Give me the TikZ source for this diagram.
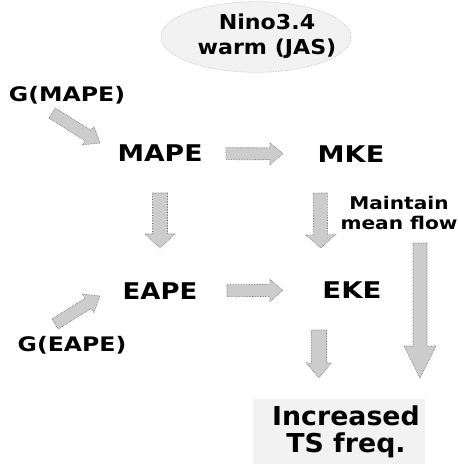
\documentclass[tikz,border=0pt]{standalone}
\usepackage{fontspec}
\setmainfont{DejaVu Sans}
\usetikzlibrary{calc,shapes.geometric}
\newcommand\fatarr[5]{%
  \coordinate (fhS) at #1;
  \coordinate (fhE) at #2;
  \coordinate (fhH) at ($(fhE)!#5!(fhS)$);
  \filldraw[fatarrow] ($(fhS)!#3!90:(fhE)$) -- ($(fhH)!#3!90:(fhE)$) -- ($(fhH)!#4!90:(fhE)$) -- (fhE)
    -- ($(fhH)!#4!-90:(fhE)$) -- ($(fhH)!#3!-90:(fhE)$) -- ($(fhS)!#3!-90:(fhE)$) -- cycle;}
\newcommand\sx[2]{\scalebox{#1}[1]{#2}}
\newcommand\twol[3]{\scalebox{#1}[1]{\begin{tabular}{@{}c@{}}#2\\#3\end{tabular}}}
\begin{document}
\begin{tikzpicture}[x=1pt,y=-1pt,
  fatarrow/.style={fill=gray!40, draw=black!60, densely dotted, line width=0.6pt},
  bigl/.style={font=\fontsize{23}{27}\selectfont\bfseries, inner sep=0pt},
  glab/.style={font=\fontsize{20}{24}\selectfont\bfseries, inner sep=0pt},
  speckle/.style={fill=gray!10, draw=gray!55, densely dotted, line width=0.6pt}]
\useasboundingbox (0,0) rectangle (458,464);
\fill[white] (0,0) rectangle (458,464);
% nodes
\node[ellipse, speckle, minimum width=190pt, minimum height=67pt, inner sep=0pt,
  font=\fontsize{20.5}{25}\selectfont\bfseries] (nino) at (256,37)
  {\makebox[0pt]{\hspace*{22pt}\twol{1.08}{Nino3.4}{warm (JAS)}}};
\node[glab] (gm) at (67,95) {\sx{1.18}{G(MAPE)}};
\node[bigl] (mape) at (160,153.5) {\sx{1.16}{MAPE}};
\node[bigl] (mke) at (351,154) {\sx{1.18}{MKE}};
\node[inner sep=0pt, font=\fontsize{17.5}{20}\selectfont\bfseries] (maint) at (399,215) {\twol{1.15}{Maintain}{mean flow}};
\node[bigl] (eape) at (160,291) {\sx{1.13}{EAPE}};
\node[bigl] (eke) at (352,290) {\sx{1.2}{EKE}};
\node[glab] (ge) at (72,345) {\sx{1.18}{G(EAPE)}};
\node[speckle, draw=none, minimum width=172pt, minimum height=68pt, inner sep=0pt,
  font=\fontsize{26}{25}\selectfont\bfseries] (incr) at (339,433)
  {\hspace*{14pt}\twol{1.03}{Increased}{TS freq.}};
% fat arrows
\fatarr{($(gm)+(-15,18)$)}{($(gm)+(33,48)$)}{6pt}{11pt}{14pt}
\fatarr{($(mape)!0.345!(mke)$)}{($(mape)!0.644!(mke)$)}{6pt}{11pt}{13pt}
\fatarr{($(mape)!0.287!(eape)$)}{($(mape)!0.687!(eape)$)}{7.5pt}{15pt}{14pt}
\fatarr{($(mke)!0.287!(eke)+(-31,0)$)}{($(mke)!0.69!(eke)+(-31,0)$)}{7pt}{15pt}{13pt}
\fatarr{($(eape)!0.349!(eke)$)}{($(eape)!0.64!(eke)$)}{6pt}{11pt}{13pt}
\fatarr{($(ge)+(-17,-21)$)}{($(ge)+(28,-49)$)}{6pt}{11pt}{14pt}
\fatarr{($(eke)+(-33,40)$)}{($(eke)+(-33,88)$)}{7.5pt}{12.5pt}{15pt}
\fatarr{($(maint)+(21,28)$)}{($(maint)+(21,163)$)}{7pt}{16pt}{32pt}
\end{tikzpicture}
\end{document}
